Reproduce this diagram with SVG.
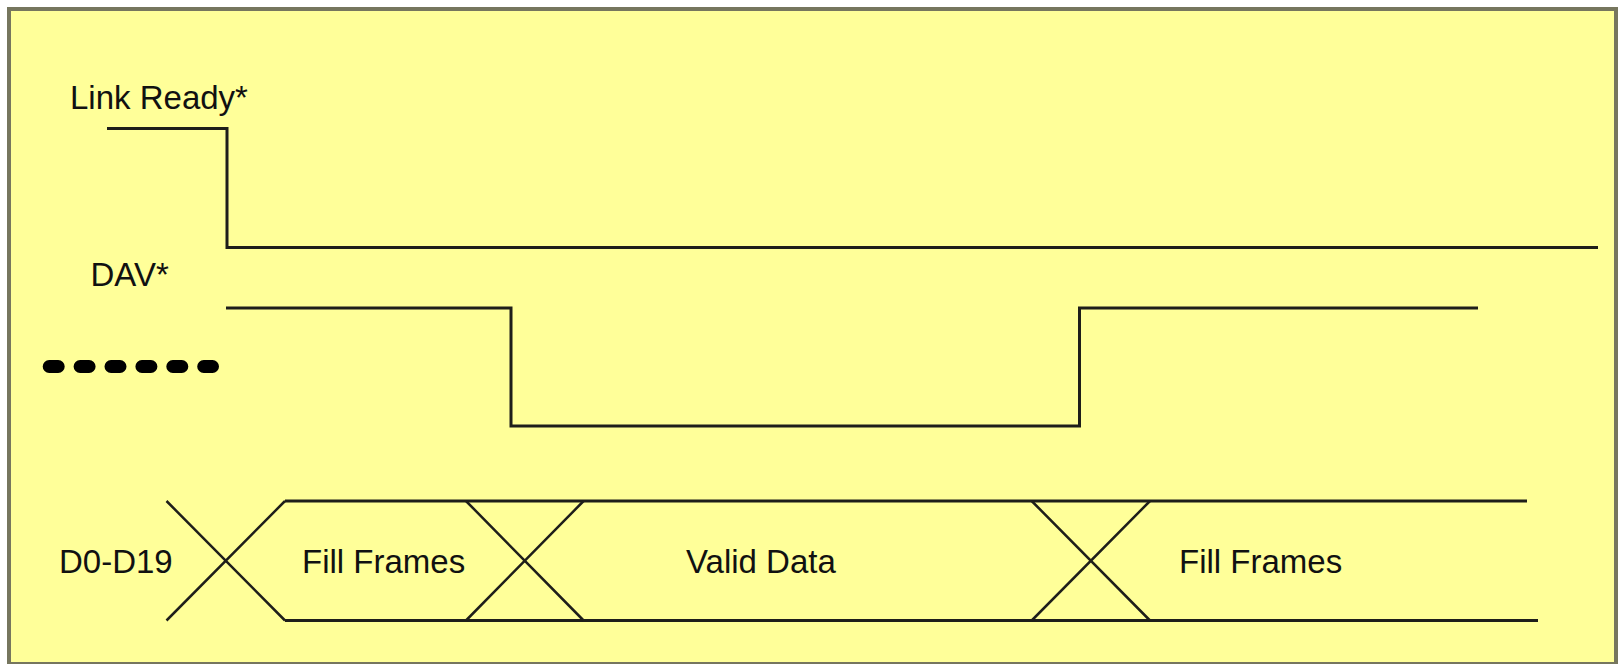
<svg xmlns="http://www.w3.org/2000/svg" width="1619" height="664" viewBox="0 0 1619 664">
  <style>
    .lbl { font-family: "Liberation Sans", Arial, sans-serif; font-size: 33px; fill: #111; }
    .wave { fill: none; stroke: #1e1e1a; stroke-width: 3; stroke-linejoin: miter; }
    .x { fill: none; stroke: #1e1e1a; stroke-width: 2.5; }
  </style>
  <rect x="0" y="0" width="1619" height="664" fill="#ffffff"/>
  <rect id="frame" x="9" y="9" width="1607" height="655" fill="#ffff99" stroke="#76765e" stroke-width="4"/>

  <g id="link-ready">
    <text class="lbl" x="70" y="109">Link Ready*</text>
  </g>
  <g id="dav">
    <text class="lbl" x="90.5" y="286">DAV*</text>
  </g>
  <g id="ellipsis">
    <line x1="49.2" y1="366.5" x2="212.5" y2="366.5" stroke="#000" stroke-width="13" stroke-linecap="round" stroke-dasharray="9 21.9"/>
  </g>
  <g id="data-bus">
    <text class="lbl" x="59" y="573">D0-D19</text>
    <text class="lbl" x="302" y="573">Fill Frames</text>
    <text class="lbl" x="686" y="573">Valid Data</text>
    <text class="lbl" x="1179" y="573">Fill Frames</text>
  </g>

  <g id="connectors">
    <path class="wave" d="M107,128.5 H227 V247.5 H1598"/>
    <path class="wave" d="M226,308 H511 V426 H1079.5 V308 H1478"/>
    <path class="wave" d="M285,501 H1527"/>
    <path class="wave" d="M285,620.5 H1538"/>
    <path class="x" d="M166.5,501 L285,620.5 M166.5,620.5 L285,501"/>
    <path class="x" d="M466,501 L583.6,620.5 M466,620.5 L583.6,501"/>
    <path class="x" d="M1031.7,501 L1150,620.5 M1031.7,620.5 L1150,501"/>
  </g>
</svg>
